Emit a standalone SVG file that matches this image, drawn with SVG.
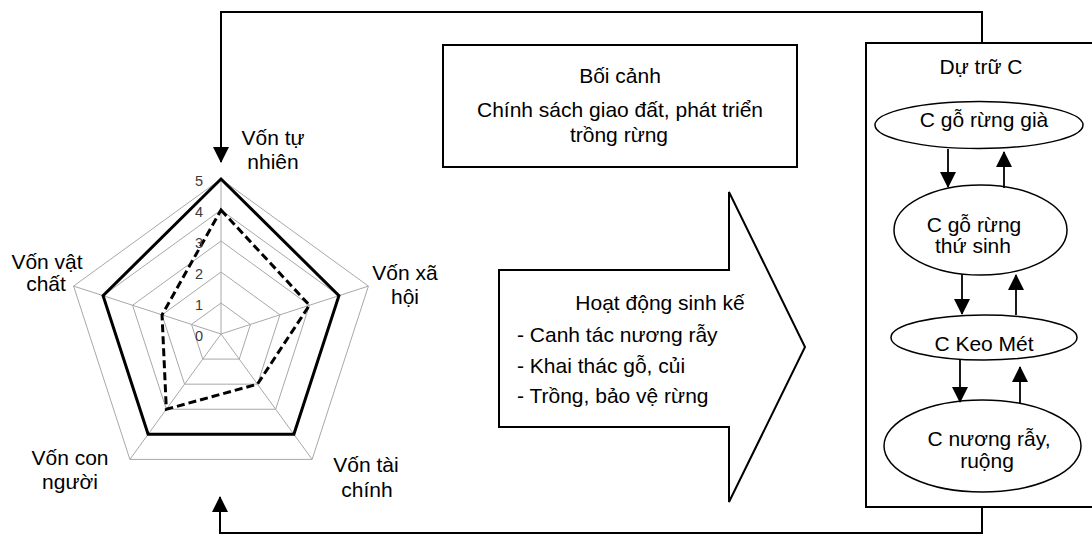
<svg xmlns="http://www.w3.org/2000/svg" width="1092" height="535" viewBox="0 0 1092 535">
<style>
text{font-family:"Liberation Sans",Arial,sans-serif;font-size:21px;fill:#000}
.c{text-anchor:middle}
.tick{font-size:14.5px;fill:#3a3a3a;text-anchor:end}
.grid{fill:none;stroke:#a8a8a8;stroke-width:1}
.box{fill:#fff;stroke:#000;stroke-width:2}
.ell{fill:#fff;stroke:#000;stroke-width:1.5}
.conn{fill:none;stroke:#000;stroke-width:2}
.arr{fill:none;stroke:#000;stroke-width:1.8}
</style>
<defs>
<marker id="ah" markerUnits="userSpaceOnUse" markerWidth="16" markerHeight="16" viewBox="0 0 16 16" refX="15" refY="8" orient="auto">
<path d="M0,0 L16,8 L0,16 Z" fill="#000"/>
</marker>
</defs>

<g id="radar">
<g class="grid">
<polygon points="221,303 250.48,324.42 239.22,359.08 202.78,359.08 191.52,324.42"/>
<polygon points="221,272 279.97,314.84 257.44,384.16 184.56,384.16 162.03,314.84"/>
<polygon points="221,241 309.45,305.26 275.66,409.24 166.34,409.24 132.55,305.26"/>
<polygon points="221,210 338.93,295.68 293.89,434.32 148.11,434.32 103.07,295.68"/>
<polygon points="221,179 368.41,286.1 312.11,459.4 129.89,459.4 73.59,286.1"/>
<path d="M221,334 L221,179 M221,334 L368.41,286.1 M221,334 L312.11,459.4 M221,334 L129.89,459.4 M221,334 L73.59,286.1"/>
</g>
<polygon points="221,179 338.93,295.68 293.89,434.32 148.11,434.32 103.07,295.68" fill="none" stroke="#000" stroke-width="3" stroke-linejoin="miter"/>
<polygon points="221,210 309.45,305.26 257.44,384.16 166.34,409.24 162.03,314.84" fill="none" stroke="#000" stroke-width="3" stroke-dasharray="8,4"/>
<text class="tick" x="203" y="186">5</text>
<text class="tick" x="203" y="217">4</text>
<text class="tick" x="203" y="248">3</text>
<text class="tick" x="203" y="279">2</text>
<text class="tick" x="203" y="310">1</text>
<text class="tick" x="203" y="341">0</text>
<text class="c" x="273" y="145">Vốn tự</text>
<text class="c" x="273" y="169">nhiên</text>
<text class="c" x="405" y="280">Vốn xã</text>
<text class="c" x="405" y="304">hội</text>
<text class="c" x="366" y="472">Vốn tài</text>
<text class="c" x="367" y="497">chính</text>
<text class="c" x="70" y="465">Vốn con</text>
<text class="c" x="70" y="489">người</text>
<text class="c" x="47" y="269">Vốn vật</text>
<text class="c" x="46" y="291">chất</text>
</g>

<g id="boi-canh">
<rect class="box" x="443" y="45" width="354" height="122"/>
<text class="c" x="620" y="83">Bối cảnh</text>
<text class="c" x="620" y="117">Chính sách giao đất, phát triển</text>
<text class="c" x="619" y="142">trồng rừng</text>
</g>

<g id="hoat-dong">
<polygon class="box" points="499,270 729,270 729,192 805,347 729,502 729,427 499,427" stroke-width="1.8"/>
<text class="c" x="660" y="310">Hoạt động sinh kế</text>
<text x="517" y="342">- Canh tác nương rẫy</text>
<text x="517" y="373">- Khai thác gỗ, củi</text>
<text x="517" y="403">- Trồng, bảo vệ rừng</text>
</g>

<g id="du-tru-c">
<rect class="box" x="866" y="43" width="240" height="464"/>
<text class="c" x="981" y="74">Dự trữ C</text>
</g>
<g id="c-go-rung-gia">
<ellipse class="ell" cx="979" cy="125" rx="104" ry="23.5"/>
<text class="c" x="984" y="127">C gỗ rừng già</text>
</g>
<g id="c-go-rung-thu-sinh">
<ellipse class="ell" cx="980.5" cy="230" rx="86.5" ry="45"/>
<text class="c" x="974" y="232">C gỗ rừng</text>
<text class="c" x="973" y="253">thứ sinh</text>
</g>
<g id="c-keo-met">
<ellipse class="ell" cx="984" cy="337.5" rx="93" ry="22.5"/>
<text class="c" x="984" y="351">C Keo Mét</text>
</g>
<g id="c-nuong-ray">
<ellipse class="ell" cx="982.5" cy="446" rx="98.5" ry="46"/>
<text class="c" x="989" y="446">C nương rẫy,</text>
<text class="c" x="987" y="468">ruộng</text>
</g>

<g id="connectors">
<path class="conn" d="M982,43 V12 H221 V162" marker-end="url(#ah)"/>
<path class="conn" d="M982,507 V533 H220 V497" marker-end="url(#ah)"/>
<path class="arr" d="M948,149 V187" marker-end="url(#ah)"/>
<path class="arr" d="M1004,188 V152" marker-end="url(#ah)"/>
<path class="arr" d="M962,274 V314" marker-end="url(#ah)"/>
<path class="arr" d="M1016,315 V275" marker-end="url(#ah)"/>
<path class="arr" d="M960,360 V402" marker-end="url(#ah)"/>
<path class="arr" d="M1020,403 V367" marker-end="url(#ah)"/>
</g>
</svg>
